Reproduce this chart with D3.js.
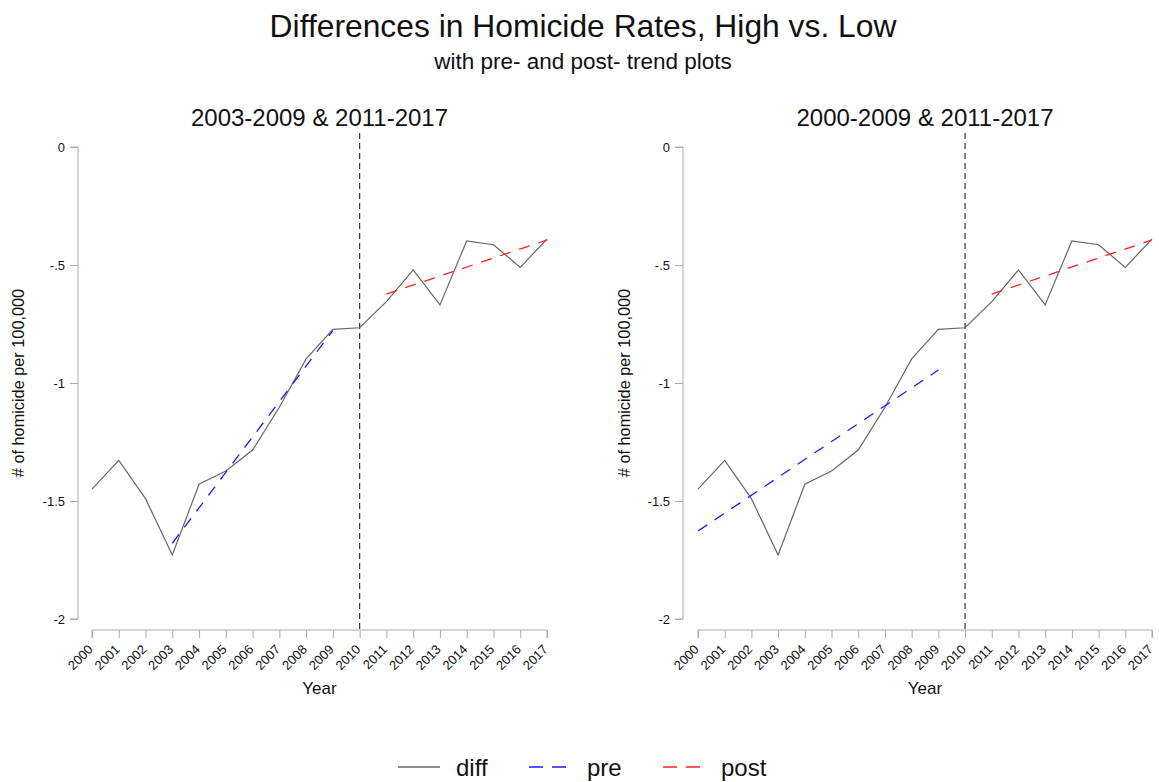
<!DOCTYPE html>
<html>
<head>
<meta charset="utf-8">
<script src="https://cdn.jsdelivr.net/npm/d3@7"></script>
<style>
  body { margin: 0; background: #fff; }
  svg { font-family: "Liberation Sans", Arial, sans-serif; }
</style>
</head>
<body>
<svg id="chart" width="1159" height="782"></svg>
<script>
// Homicide rate differences (high minus low), per 100,000
const years = [2000, 2001, 2002, 2003, 2004, 2005, 2006, 2007, 2008, 2009,
               2010, 2011, 2012, 2013, 2014, 2015, 2016, 2017];
const diff = [-1.45, -1.328, -1.49, -1.729, -1.429, -1.373, -1.284, -1.103, -0.898, -0.773,
              -0.766, -0.655, -0.521, -0.669, -0.398, -0.414, -0.510, -0.390];

// Fitted trend segments: [startYear, endYear] and [startValue, endValue]
const preYearsLeft = [2003, 2009];
const preValuesLeft = [-1.679, -0.778];
const preYearsRight = [2000, 2009];
const preValuesRight = [-1.627, -0.945];
const postYears = [2011, 2017];
const postValues = [-0.623, -0.394];

const breakYear = 2010;
const yTicks = [0, -0.5, -1, -1.5, -2];
const yTickLabels = ["0", "-.5", "-1", "-1.5", "-2"];
const panelTitles = ["2003-2009 & 2011-2017", "2000-2009 & 2011-2017"];
const legendLabels = ["diff", "pre", "post"];

const svg = d3.select("#chart");
const DIFF_COLOR = "#666";
const PRE_COLOR = "#1a1aff";
const POST_COLOR = "#ff2020";
const AXIS_COLOR = "#aaa";
const FONT = "Liberation Sans, Arial, sans-serif";

svg.append("text").attr("x", 583).attr("y", 37).attr("text-anchor", "middle")
  .attr("font-size", 31.8).attr("fill", "#111").text("Differences in Homicide Rates, High vs. Low");
svg.append("text").attr("x", 583).attr("y", 69).attr("text-anchor", "middle")
  .attr("font-size", 22.5).attr("fill", "#111").text("with pre- and post- trend plots");

const panels = [
  { yAxisX: 78, x0: 92, x1: 547, title: panelTitles[0], preY: preYearsLeft, preV: preValuesLeft, labelX: 18 },
  { yAxisX: 683, x0: 698, x1: 1152, title: panelTitles[1], preY: preYearsRight, preV: preValuesRight, labelX: 624 }
];

panels.forEach(p => {
  const x = d3.scaleLinear().domain([2000, 2017]).range([p.x0, p.x1]);
  const y = d3.scaleLinear().domain([-2, 0]).range([619, 147]);
  const g = svg.append("g");

  // panel title
  g.append("text").attr("x", (p.x0 + p.x1) / 2).attr("y", 126).attr("text-anchor", "middle")
    .attr("font-size", 24).attr("fill", "#111").text(p.title);

  // y axis
  const yAxis = d3.axisLeft(y).tickValues(yTicks)
    .tickFormat((d, i) => yTickLabels[i]).tickSize(8).tickPadding(5);
  const ya = g.append("g").attr("transform", `translate(${p.yAxisX},0)`).call(yAxis);
  ya.select(".domain").attr("stroke", AXIS_COLOR).attr("d", `M-8,${y(0)}H0V${y(-2)}H-8`);
  ya.selectAll(".tick line").attr("stroke", AXIS_COLOR);
  ya.selectAll(".tick text").attr("font-size", 13).attr("fill", "#111").attr("font-family", FONT);

  // x axis with rotated year labels
  const xAxis = d3.axisBottom(x).tickValues(years).tickFormat(d3.format("d")).tickSize(8);
  const xa = g.append("g").attr("transform", "translate(0,630)").call(xAxis);
  xa.select(".domain").attr("stroke", AXIS_COLOR).attr("d", `M${x(2000)},8V0H${x(2017)}V8`);
  xa.selectAll(".tick line").attr("stroke", AXIS_COLOR);
  xa.selectAll(".tick text").attr("font-size", 13).attr("fill", "#111").attr("font-family", FONT)
    .attr("text-anchor", "end").attr("x", 0).attr("y", 0).attr("dy", "0.35em")
    .attr("transform", "translate(-2,17) rotate(-45)");

  // axis titles
  g.append("text").attr("x", (p.x0 + p.x1) / 2).attr("y", 694).attr("text-anchor", "middle")
    .attr("font-size", 17).attr("fill", "#111").text("Year");
  g.append("text").attr("transform", `translate(${p.labelX},${y(-1)}) rotate(-90)`)
    .attr("text-anchor", "middle").attr("dy", "0.35em")
    .attr("font-size", 16.3).attr("fill", "#111").text("# of homicide per 100,000");

  // break line
  g.append("line").attr("x1", x(breakYear)).attr("x2", x(breakYear))
    .attr("y1", 133).attr("y2", 630)
    .attr("stroke", "#333").attr("stroke-width", 1.2).attr("stroke-dasharray", "6,4");

  const line = d3.line().x(d => x(d[0])).y(d => y(d[1]));

  // diff series
  g.append("path").datum(years.map((yr, i) => [yr, diff[i]]))
    .attr("d", line).attr("fill", "none").attr("stroke", DIFF_COLOR).attr("stroke-width", 1.2);

  // pre trend
  g.append("path").datum(p.preY.map((yr, i) => [yr, p.preV[i]]))
    .attr("d", line).attr("fill", "none").attr("stroke", PRE_COLOR)
    .attr("stroke-width", 1.3).attr("stroke-dasharray", "11,9");

  // post trend
  g.append("path").datum(postYears.map((yr, i) => [yr, postValues[i]]))
    .attr("d", line).attr("fill", "none").attr("stroke", POST_COLOR)
    .attr("stroke-width", 1.3).attr("stroke-dasharray", "11,9");
});

// legend
const legend = svg.append("g");
const items = [
  { label: legendLabels[0], color: DIFF_COLOR, dash: null, x: 398 },
  { label: legendLabels[1], color: PRE_COLOR, dash: "14,9", x: 529 },
  { label: legendLabels[2], color: POST_COLOR, dash: "14,9", x: 663 }
];
items.forEach(it => {
  legend.append("line").attr("x1", it.x).attr("x2", it.x + 42).attr("y1", 767).attr("y2", 767)
    .attr("stroke", it.color).attr("stroke-width", 1.3)
    .attr("stroke-dasharray", it.dash);
  legend.append("text").attr("x", it.x + 58).attr("y", 775.5).attr("font-size", 24)
    .attr("fill", "#111").text(it.label);
});
</script>
</body>
</html>
